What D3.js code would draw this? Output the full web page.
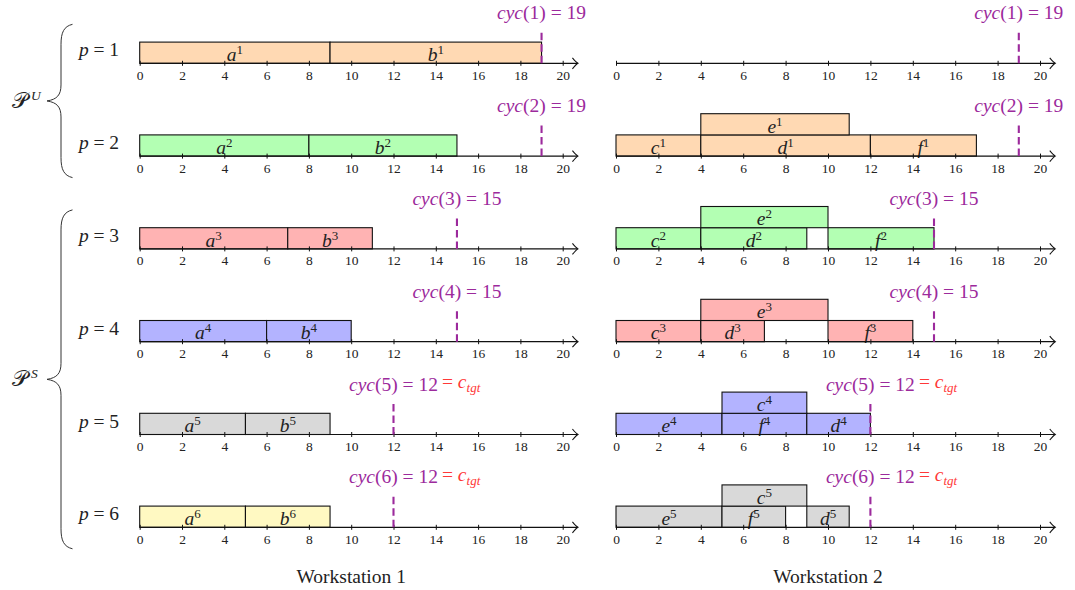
<!DOCTYPE html>
<html><head><meta charset="utf-8">
<script src="https://cdn.jsdelivr.net/npm/d3@7"></script>
<style>
body{margin:0;background:#fff}
svg{display:block}
text{font-family:"Liberation Serif","Times New Roman",serif;fill:#222}
</style>
</head><body>
<svg id="c" width="1075" height="590"></svg>
<script>
// ---------------- data ----------------
const tickValues = [0, 2, 4, 6, 8, 10, 12, 14, 16, 18, 20];
const products = [1, 2, 3, 4, 5, 6];
const cycleTimes = [19, 19, 15, 15, 12, 12];
const targetCycle = 12;
const workstations = ["Workstation 1", "Workstation 2"];
// [product, task, superscript, start, end]
const ws1Tasks = [
  [1, "a", 1, 0, 9], [1, "b", 1, 9, 19],
  [2, "a", 2, 0, 8], [2, "b", 2, 8, 15],
  [3, "a", 3, 0, 7], [3, "b", 3, 7, 11],
  [4, "a", 4, 0, 6], [4, "b", 4, 6, 10],
  [5, "a", 5, 0, 5], [5, "b", 5, 5, 9],
  [6, "a", 6, 0, 5], [6, "b", 6, 5, 9]
];
// [product, task, superscript, start, end, level]
const ws2Tasks = [
  [2, "c", 1, 0, 4, 0], [2, "d", 1, 4, 12, 0], [2, "f", 1, 12, 17, 0], [2, "e", 1, 4, 11, 1],
  [3, "c", 2, 0, 4, 0], [3, "d", 2, 4, 9, 0], [3, "f", 2, 10, 15, 0], [3, "e", 2, 4, 10, 1],
  [4, "c", 3, 0, 4, 0], [4, "d", 3, 4, 7, 0], [4, "f", 3, 10, 14, 0], [4, "e", 3, 4, 10, 1],
  [5, "e", 4, 0, 5, 0], [5, "f", 4, 5, 9, 0], [5, "d", 4, 9, 12, 0], [5, "c", 4, 5, 9, 1],
  [6, "e", 5, 0, 5, 0], [6, "f", 5, 5, 8, 0], [6, "d", 5, 9, 11, 0], [6, "c", 5, 5, 9, 1]
];
// [set superscript, first product, last product]
const productSets = [["U", 1, 2], ["S", 3, 6]];

// ---------------- styles ----------------
const fillBySup = {1: "#ffd9b3", 2: "#b3ffb3", 3: "#ffb3b3", 4: "#b3b3ff", 5: "#d9d9d9", 6: "#fff9c2"};
const purple = "#9c2a9c";
const red = "#ff3838";
const FS = 19.5, FSsmall = 13, FStick = 13.5;

// ---------------- scales ----------------
const svg = d3.select("#c");
const xs = [d3.scaleLinear([0, 20], [139.7, 562.7]), d3.scaleLinear([0, 20], [616, 1040])];
const y = d3.scaleLinear([1, 6], [63.3, 527.3]);
const levelH = 21.2;
const wsTasks = [ws1Tasks.map(d => d.concat([0])), ws2Tasks];

xs.forEach((x, wi) => {
  const g = svg.append("g");
  const tasks = wsTasks[wi];
  // bars
  g.selectAll("rect.bar").data(tasks).join("rect")
    .attr("class", "bar")
    .attr("x", d => x(d[3]))
    .attr("y", d => y(d[0]) - (d[5] + 1) * levelH)
    .attr("width", d => x(d[4]) - x(d[3]))
    .attr("height", levelH)
    .attr("fill", d => fillBySup[d[2]])
    .attr("stroke", "#111")
    .attr("stroke-width", 1.1);
  // bar labels
  const lab = g.selectAll("text.lab").data(tasks).join("text")
    .attr("class", "lab")
    .attr("x", d => x((d[3] + d[4]) / 2))
    .attr("y", d => y(d[0]) - d[5] * levelH - 2.3)
    .attr("text-anchor", "middle");
  lab.append("tspan").attr("font-style", "italic").attr("font-size", FS).text(d => d[1]);
  lab.append("tspan").attr("font-size", FSsmall).attr("dy", -7).text(d => d[2]);

  // axes
  products.forEach((p, pi) => {
    const ay = y(p);
    const ax = g.append("g").attr("transform", `translate(0,${ay})`);
    ax.call(d3.axisBottom(x).tickValues(tickValues).tickSizeInner(2.5).tickSizeOuter(0));
    ax.select(".domain").remove();
    ax.selectAll(".tick line").attr("y1", -2.5).attr("y2", 2.5).attr("stroke", "#111").attr("stroke-width", 1);
    ax.selectAll(".tick text").attr("y", 16.5).attr("dy", null)
      .attr("font-family", "Liberation Serif, serif").attr("font-size", FStick).attr("fill", "#222");
    const xEnd = x(20.72);
    ax.append("line").attr("x1", x(0)).attr("x2", xEnd - 0.5).attr("y1", 0).attr("y2", 0)
      .attr("stroke", "#111").attr("stroke-width", 1.2);
    ax.append("path")
      .attr("d", `M${xEnd - 5.5},-5.5 Q${xEnd - 2},-1.2 ${xEnd},0 Q${xEnd - 2},1.2 ${xEnd - 5.5},5.5`)
      .attr("fill", "none").attr("stroke", "#111").attr("stroke-width", 1.1);

    // cycle time line
    const c = cycleTimes[pi];
    g.append("line")
      .attr("x1", x(c)).attr("x2", x(c)).attr("y1", ay).attr("y2", ay - 33)
      .attr("stroke", purple).attr("stroke-width", 2.1).attr("stroke-dasharray", "7.5,4");
    const t = g.append("text").attr("x", x(c)).attr("y", ay - 44)
      .attr("text-anchor", "middle").attr("font-size", FS).style("fill", purple);
    t.append("tspan").attr("font-style", "italic").text("cyc");
    t.append("tspan").text(`(${p}) = ${c}`);
    if (c === targetCycle) {
      const bb = t.node().getBBox();
      const r = g.append("text").attr("x", bb.x + bb.width + 4).attr("y", ay - 46.5)
        .attr("font-size", FS).style("fill", red);
      r.append("tspan").text("= ");
      r.append("tspan").attr("font-style", "italic").text("c");
      r.append("tspan").attr("font-style", "italic").attr("font-size", FSsmall).attr("dy", 4).text("tgt");
    }
  });

  // workstation label
  svg.append("text").attr("x", (x(0) + x(20)) / 2).attr("y", 583)
    .attr("text-anchor", "middle").attr("font-size", FS).text(workstations[wi]);
});

// product row labels
const rl = svg.selectAll("text.rowlab").data(products).join("text")
  .attr("class", "rowlab")
  .attr("x", 99).attr("y", p => y(p) - 7)
  .attr("text-anchor", "middle").attr("font-size", FS);
rl.append("tspan").attr("font-style", "italic").text("p");
rl.append("tspan").text(p => ` = ${p}`);

// braces
productSets.forEach(([s, a, b]) => {
  const top = y(a) - 39, bot = y(b) + 21.5, mid = (top + bot) / 2;
  const xr = 72.5, xv = 61, xt = 47;
  svg.append("path")
    .attr("d", `M${xr},${top} C${xv + 3},${top + 2} ${xv},${top + 8} ${xv},${top + 20}
      L${xv},${mid - 16} C${xv},${mid - 6} ${xv - 4},${mid - 1.5} ${xt},${mid}
      C${xv - 4},${mid + 1.5} ${xv},${mid + 6} ${xv},${mid + 16}
      L${xv},${bot - 20} C${xv},${bot - 8} ${xv + 3},${bot - 2} ${xr},${bot}`)
    .attr("fill", "none").attr("stroke", "#333").attr("stroke-width", 1);
  svg.append("text").attr("x", 12).attr("y", mid + 7).attr("font-size", FS + 2)
    .text("\u{1D4AB}");
  svg.append("text").attr("x", 31).attr("y", mid - 1).attr("font-size", FSsmall + 0.5)
    .attr("font-style", "italic").text(s);
});
</script>
</body></html>
